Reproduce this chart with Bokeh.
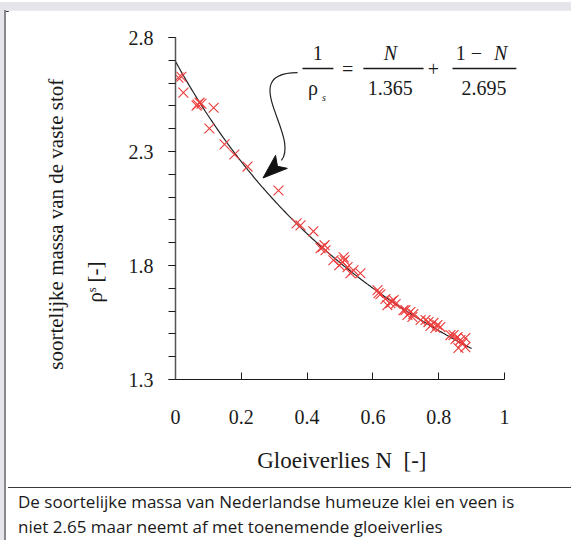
import numpy as np
from bokeh.plotting import figure
from bokeh.models import Range1d, FixedTicker, Label, Arrow, Div, LinearAxis
from bokeh.layouts import column, row
from bokeh.embed import file_html
from bokeh.resources import INLINE

# ---------------- data ----------------
N_meas = [0.009, 0.018, 0.024, 0.064, 0.067, 0.073, 0.079, 0.116, 0.103, 0.149,
          0.179, 0.219, 0.313, 0.368, 0.380, 0.419, 0.441, 0.447, 0.453, 0.456,
          0.480, 0.498, 0.508, 0.511, 0.514, 0.523, 0.532, 0.541, 0.562, 0.614,
          0.617, 0.623, 0.638, 0.644, 0.653, 0.657, 0.663, 0.669, 0.693, 0.699,
          0.705, 0.714, 0.720, 0.723, 0.745, 0.760, 0.769, 0.775, 0.784, 0.790,
          0.796, 0.805, 0.836, 0.845, 0.851, 0.857, 0.860, 0.866, 0.872, 0.881,
          0.881]
rho_meas = [2.624, 2.628, 2.558, 2.501, 2.506, 2.514, 2.510, 2.492, 2.401, 2.331,
            2.287, 2.234, 2.129, 1.985, 1.976, 1.950, 1.876, 1.880, 1.889, 1.867,
            1.823, 1.801, 1.815, 1.836, 1.823, 1.793, 1.766, 1.779, 1.766, 1.692,
            1.679, 1.674, 1.653, 1.626, 1.635, 1.643, 1.648, 1.631, 1.604, 1.604,
            1.583, 1.596, 1.574, 1.587, 1.561, 1.561, 1.552, 1.535, 1.548, 1.526,
            1.539, 1.530, 1.495, 1.495, 1.477, 1.486, 1.438, 1.473, 1.460, 1.482,
            1.442]

# model constants shown in the chart's formula
rho_organic = 1.365
rho_mineral = 2.695
N_curve_max = 0.90

x_ticks = [0, 0.2, 0.4, 0.6, 0.8, 1]
x_tick_labels = ["0", "0.2", "0.4", "0.6", "0.8", "1"]
y_ticks = [1.3, 1.8, 2.3, 2.8]
y_tick_labels = ["1.3", "1.8", "2.3", "2.8"]
y_minor = [round(1.3 + 0.1 * i, 1) for i in range(16)]

x_title = "Gloeiverlies N\u00a0\u00a0[-]"
y_title = "soortelijke massa van de vaste stof"
y_unit = "\u03c1\u02e2 [-]"
caption1 = "De soortelijke massa van Nederlandse humeuze klei en veen is"
caption2 = "niet 2.65 maar neemt af met toenemende gloeiverlies"

# ---------------- style ----------------
SERIF = "Liberation Serif"
SANS = "Open Sans"
RED = "#ec3b3b"
GRAY = "#e6e6ea"
INK = "#1a1a1a"
X_END = 396 / 329.0   # frame runs to the right edge of the card
NB = "\u00a0"

n_curve = np.linspace(0, N_curve_max, 200)
rho_curve = 1.0 / (n_curve / rho_organic + (1 - n_curve) / rho_mineral)

p = figure(width=563, height=469, x_range=Range1d(0, X_END), y_range=Range1d(1.3, 2.8),
           output_backend="svg", toolbar_location=None,
           min_border_left=167, min_border_right=0, min_border_top=27, min_border_bottom=100,
           background_fill_color="white", border_fill_color="white", outline_line_color=None)
p.grid.visible = False
p.title.visible = False

# axes
xa = p.xaxis[0]
xa.bounds = (0, 1)
xa.ticker = FixedTicker(ticks=x_ticks)
xa.major_label_overrides = {t: l for t, l in zip(x_ticks, x_tick_labels)}
xa.major_tick_in = 7
xa.major_tick_out = 0
xa.minor_tick_line_color = None
xa.axis_line_color = INK
xa.major_tick_line_color = INK
xa.major_label_standoff = 30
xa.major_label_text_font = SERIF
xa.major_label_text_font_size = "20px"
xa.major_label_text_color = INK
# trailing no-break spaces shift the centred label left, over the 0..1 axis
xa.axis_label = x_title + NB * 11
xa.axis_label_text_font = SERIF
xa.axis_label_text_font_size = "23px"
xa.axis_label_text_font_style = "normal"
xa.axis_label_text_color = INK
xa.axis_label_standoff = 21

ya = p.yaxis[0]
ya.bounds = (1.3, 2.8)
ya.ticker = FixedTicker(ticks=y_ticks, minor_ticks=y_minor)
ya.major_label_overrides = {t: l for t, l in zip(y_ticks, y_tick_labels)}
ya.major_tick_in = 0
ya.major_tick_out = 7
ya.minor_tick_in = 0
ya.minor_tick_out = 7
ya.axis_line_color = "#555555"
ya.axis_line_width = 1.5
ya.major_tick_line_color = INK
ya.minor_tick_line_color = INK
ya.major_label_standoff = 15
ya.major_label_text_font = SERIF
ya.major_label_text_font_size = "20px"
ya.major_label_text_color = INK

# two-line vertical title: label-only axes stacked on the left
# (trailing no-break spaces move the visible text down from the panel centre)
def title_axis(text, standoff, size):
    ax = LinearAxis(ticker=FixedTicker(ticks=[]))
    ax.axis_line_color = None
    ax.major_tick_line_color = None
    ax.minor_tick_line_color = None
    ax.major_label_text_font_size = "0px"
    ax.major_label_standoff = 0
    ax.major_tick_in = 0
    ax.major_tick_out = 0
    ax.minor_tick_in = 0
    ax.minor_tick_out = 0
    ax.axis_label = text
    ax.axis_label_standoff = standoff
    ax.axis_label_text_font = SERIF
    ax.axis_label_text_font_size = size
    ax.axis_label_text_font_style = "normal"
    ax.axis_label_text_color = INK
    p.add_layout(ax, "left")

title_axis(y_unit + NB * 28, 19, "21px")
title_axis(y_title + NB * 6, 12, "21px")

# model curve and measurements
p.line(n_curve, rho_curve, line_color="#222222", line_width=1.2)
p.scatter(N_meas, rho_meas, marker="x", size=14, line_color=RED, line_width=1.1)

# formula (data units)
def dlabel(text, x, y, size="20px", style="normal"):
    lb = Label(x=x, y=y, text=text)
    lb.text_font = SERIF
    lb.text_font_size = size
    lb.text_font_style = style
    lb.text_align = "center"
    lb.text_baseline = "middle"
    lb.text_color = INK
    p.add_layout(lb)

def bar(x0, x1, y):
    p.add_layout(Arrow(x_start=x0, y_start=y, x_end=x1, y_end=y, start=None, end=None,
                       line_color=INK, line_width=1.3))

dlabel("1", 0.432, 2.733)
bar(0.386, 0.480, 2.664)
dlabel("\u03c1", 0.418, 2.578)
dlabel("s", 0.451, 2.537, size="10px", style="italic")
dlabel("=", 0.523, 2.663)
dlabel("N", 0.653, 2.733, style="italic")
bar(0.571, 0.754, 2.664)
dlabel("1.365", 0.653, 2.580)
dlabel("+", 0.784, 2.663)
dlabel("1 \u2212", 0.892, 2.733)
dlabel("N", 0.988, 2.733, style="italic")
bar(0.842, 1.036, 2.664)
dlabel("2.695", 0.938, 2.580)

# curved pointer arrow
p.bezier(x0=[0.371], y0=[2.646], x1=[0.322], y1=[2.261],
         cx0=[0.182], cy0=[2.646], cx1=[0.380], cy1=[2.370],
         line_color="#222222", line_width=1.2)
p.patch(x=[0.266, 0.304, 0.310, 0.340], y=[2.184, 2.283, 2.235, 2.226],
        fill_color="#111111", line_color="#111111", line_width=1)

# card frame and caption
top_strip = Div(width=571, height=10, margin=0, text=(
    f'<div style="width:571px;height:9px;background:{GRAY}"></div>'
    f'<div style="width:571px;height:1px;background:{GRAY}">'
    f'<div style="margin-left:6px;height:1px;background:#3a3a3a"></div></div>'))
left_strip = Div(width=8, height=538, margin=0, text=(
    f'<div style="width:6px;height:538px;background:{GRAY};border-right:2px solid #8a8a8e"></div>'))
caption = Div(width=563, height=69, margin=0, text=(
    f'<div style="width:563px;height:8px;background:white"></div>'
    f'<div style="width:563px;height:61px;border-top:1px solid #3a3a3a;box-sizing:border-box;'
    f'padding:1px 0 0 10px;font-family:\'{SANS}\';font-size:17px;line-height:25px;color:{INK};'
    f'background:white;white-space:nowrap">{caption1}<br>{caption2}</div>'))

layout = column(top_strip, row(left_strip, column(p, caption, spacing=0), spacing=0), spacing=0)

open("out.html", "w").write(file_html(layout, INLINE))
